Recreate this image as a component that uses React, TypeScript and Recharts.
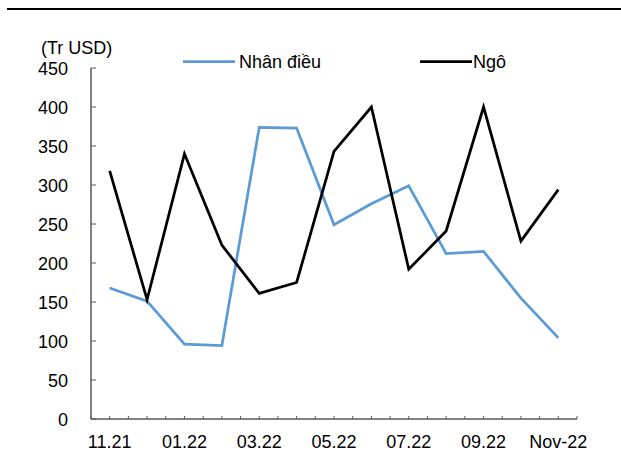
import { LineChart, Line, XAxis, YAxis } from 'recharts';

const months = ['11.21', '12.21', '01.22', '02.22', '03.22', '04.22', '05.22', '06.22', '07.22', '08.22', '09.22', '10.22', 'Nov-22'];
const shownLabels = ['11.21', '', '01.22', '', '03.22', '', '05.22', '', '07.22', '', '09.22', '', 'Nov-22'];
const nhanDieu = [168, 151, 96, 94, 374, 373, 249, 276, 299, 212, 215, 155, 104];
const ngo = [318, 153, 340, 223, 161, 175, 343, 400, 192, 241, 400, 228, 294];
const yTicks = [0, 50, 100, 150, 200, 250, 300, 350, 400, 450];

const data = months.map((month, i) => ({ x: i, month, nhanDieu: nhanDieu[i], ngo: ngo[i] }));
// tick marks sit between and on the categories
const xTicks = [-0.5, ...months.flatMap((_, i) => [i, i + 0.5])];

const font = 'Arial, "Liberation Sans", sans-serif';
const fontSize = 18;
const axisColor = '#595959';
const blue = '#5B9BD5';

const XTick = (props: any) => {
  const { x, y, payload } = props;
  const v = payload.value;
  const label = Number.isInteger(v) ? shownLabels[v] : '';
  return (
    <g>
      <line x1={x} x2={x} y1={y} y2={y - 3} stroke={axisColor} strokeWidth={1} />
      {label && (
        <text x={x} y={y + 29} textAnchor="middle" fontSize={fontSize} fontFamily={font} fill="#000">
          {label}
        </text>
      )}
    </g>
  );
};

const YTick = (props: any) => {
  const { x, y, payload } = props;
  return (
    <g>
      <line x1={x} x2={x + 5} y1={y} y2={y} stroke={axisColor} strokeWidth={1} />
      <text x={x - 23} y={y + 6.5} textAnchor="end" fontSize={fontSize} fontFamily={font} fill="#000">
        {payload.value}
      </text>
    </g>
  );
};

export default function App() {
  return (
    <div style={{ position: 'absolute', left: 0, top: 0, width: 621, height: 462, background: '#fff' }}>
      <div style={{ position: 'absolute', left: 0, top: 0 }}>
        <LineChart width={621} height={462} data={data} margin={{ top: 68, right: 44, bottom: 0, left: 0 }}>
          <XAxis
            dataKey="x"
            type="number"
            domain={[-0.5, 12.5]}
            ticks={xTicks}
            interval={0}
            height={43}
            tickSize={0}
            tickMargin={0}
            tickLine={false}
            axisLine={{ stroke: axisColor, strokeWidth: 1.5 }}
            tick={<XTick />}
          />
          <YAxis
            type="number"
            domain={[0, 450]}
            ticks={yTicks}
            interval={0}
            width={91}
            tickSize={0}
            tickMargin={0}
            tickLine={false}
            axisLine={{ stroke: axisColor, strokeWidth: 1.5 }}
            tick={<YTick />}
          />
          <Line
            type="linear"
            dataKey="nhanDieu"
            name="Nhân điều"
            stroke={blue}
            strokeWidth={2.75}
            dot={false}
            isAnimationActive={false}
          />
          <Line
            type="linear"
            dataKey="ngo"
            name="Ngô"
            stroke="#000"
            strokeWidth={2.75}
            dot={false}
            isAnimationActive={false}
          />
        </LineChart>
      </div>
      <svg width={621} height={80} style={{ position: 'absolute', left: 0, top: 0 }}>
        <line x1={7} x2={621} y1={9} y2={9} stroke="#000" strokeWidth={2} />
        <text x={41} y={54} fontSize={fontSize} fontFamily={font} fill="#000">
          (Tr USD)
        </text>
        <line x1={183} x2={235} y1={61.5} y2={61.5} stroke={blue} strokeWidth={2.75} />
        <text x={239} y={68} fontSize={fontSize} fontFamily={font} fill="#000">
          Nhân điều
        </text>
        <line x1={420} x2={472} y1={61.5} y2={61.5} stroke="#000" strokeWidth={2.75} />
        <text x={473} y={68} fontSize={fontSize} fontFamily={font} fill="#000">
          Ngô
        </text>
      </svg>
    </div>
  );
}
